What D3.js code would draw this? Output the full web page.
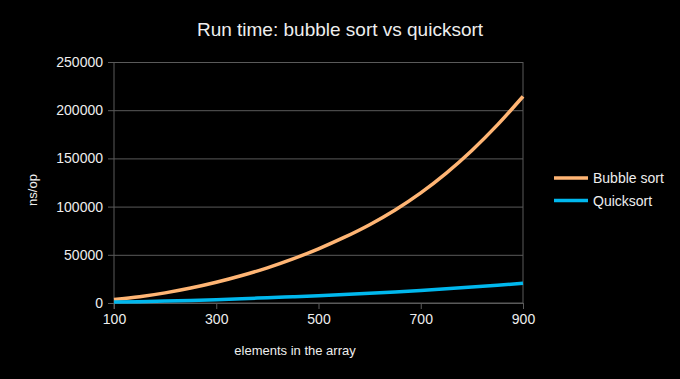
<!DOCTYPE html>
<html>
<head>
<meta charset="utf-8">
<script src="https://cdn.jsdelivr.net/npm/d3@7"></script>
<style>
  body { margin: 0; background: #000; }
  svg text { font-family: "Liberation Sans", Arial, sans-serif; fill: #eeeeee; }
</style>
</head>
<body>
<div id="chart"></div>
<script>
var sizes = [100, 150, 200, 250, 300, 350, 400, 450, 500, 550, 600, 650, 700, 750, 800, 850, 900];
var bubbleSort = [3500, 6500, 10500, 15500, 21500, 28500, 36500, 45750, 56250, 68000, 81250, 96500, 114250, 134750, 158250, 184750, 214250];
var quickSort = [1000, 1400, 2000, 2700, 3500, 4400, 5500, 6500, 7500, 8700, 10000, 11400, 13000, 14700, 16500, 18400, 20500];

var xTicks = [100, 300, 500, 700, 900];
var yTicks = [0, 50000, 100000, 150000, 200000, 250000];

var series = [
  {name: "Bubble sort", values: bubbleSort, color: "#ffb574"},
  {name: "Quicksort", values: quickSort, color: "#00b8ee"}
];

var width = 680, height = 379;
var margin = {top: 62, right: 157, bottom: 76, left: 114};

var svg = d3.select("#chart").append("svg")
    .attr("width", width).attr("height", height)
    .style("background", "#000");

var x = d3.scaleLinear().domain([100, 900]).range([margin.left, width - margin.right]);
var y = d3.scaleLinear().domain([0, 250000]).range([height - margin.bottom, margin.top]);

// title
svg.append("text")
    .attr("x", 340).attr("y", 36)
    .attr("text-anchor", "middle")
    .style("font-size", "19px")
    .text("Run time: bubble sort vs quicksort");

// horizontal grid
svg.append("g")
    .attr("transform", "translate(" + margin.left + ",0)")
    .call(d3.axisLeft(y).tickValues(yTicks).tickSize(-(x(900) - x(100))).tickFormat(""))
    .call(g => g.select(".domain").remove())
    .selectAll("line").attr("stroke", "#5a5a5a");

// right border of plot area
svg.append("line")
    .attr("x1", x(900)).attr("x2", x(900))
    .attr("y1", y(250000)).attr("y2", y(0))
    .attr("stroke", "#5a5a5a");

// y axis
var yAxis = svg.append("g")
    .attr("transform", "translate(" + margin.left + ",0)")
    .call(d3.axisLeft(y).tickValues(yTicks).tickSize(6).tickPadding(5).tickFormat(d3.format("d")));
yAxis.selectAll("line, path").attr("stroke", "#5a5a5a");
yAxis.select(".domain").attr("d", "M0," + y(250000) + "V" + (y(0) + 6));
yAxis.selectAll("text").style("font-size", "14px").attr("fill", "#eeeeee");

// x axis
var xAxis = svg.append("g")
    .attr("transform", "translate(0," + y(0) + ")")
    .call(d3.axisBottom(x).tickValues(xTicks).tickSize(6).tickPadding(5));
xAxis.selectAll("line, path").attr("stroke", "#5a5a5a");
xAxis.select(".domain").attr("d", "M" + x(100) + ",0H" + x(900));
xAxis.selectAll("text").style("font-size", "14px").attr("fill", "#eeeeee");

// axis titles
svg.append("text")
    .attr("x", 295).attr("y", 355)
    .attr("text-anchor", "middle")
    .style("font-size", "13px")
    .text("elements in the array");

svg.append("text")
    .attr("transform", "translate(37,190) rotate(-90)")
    .attr("text-anchor", "middle")
    .style("font-size", "13px")
    .text("ns/op");

// lines
var line = d3.line()
    .x((d, i) => x(sizes[i]))
    .y(d => y(d))
    .curve(d3.curveMonotoneX);

svg.selectAll(".series").data(series).enter().append("path")
    .attr("class", "series")
    .attr("fill", "none")
    .attr("stroke", d => d.color)
    .attr("stroke-width", 3.5)
    .attr("stroke-linejoin", "round")
    .attr("d", d => line(d.values));

// legend
var legend = svg.selectAll(".legend").data(series).enter().append("g")
    .attr("class", "legend")
    .attr("transform", (d, i) => "translate(554," + (178 + i * 22.5) + ")");

legend.append("line")
    .attr("x1", 0).attr("x2", 34)
    .attr("stroke", d => d.color)
    .attr("stroke-width", 3.5);

legend.append("text")
    .attr("x", 39).attr("y", 5)
    .style("font-size", "14px")
    .text(d => d.name);
</script>
</body>
</html>
